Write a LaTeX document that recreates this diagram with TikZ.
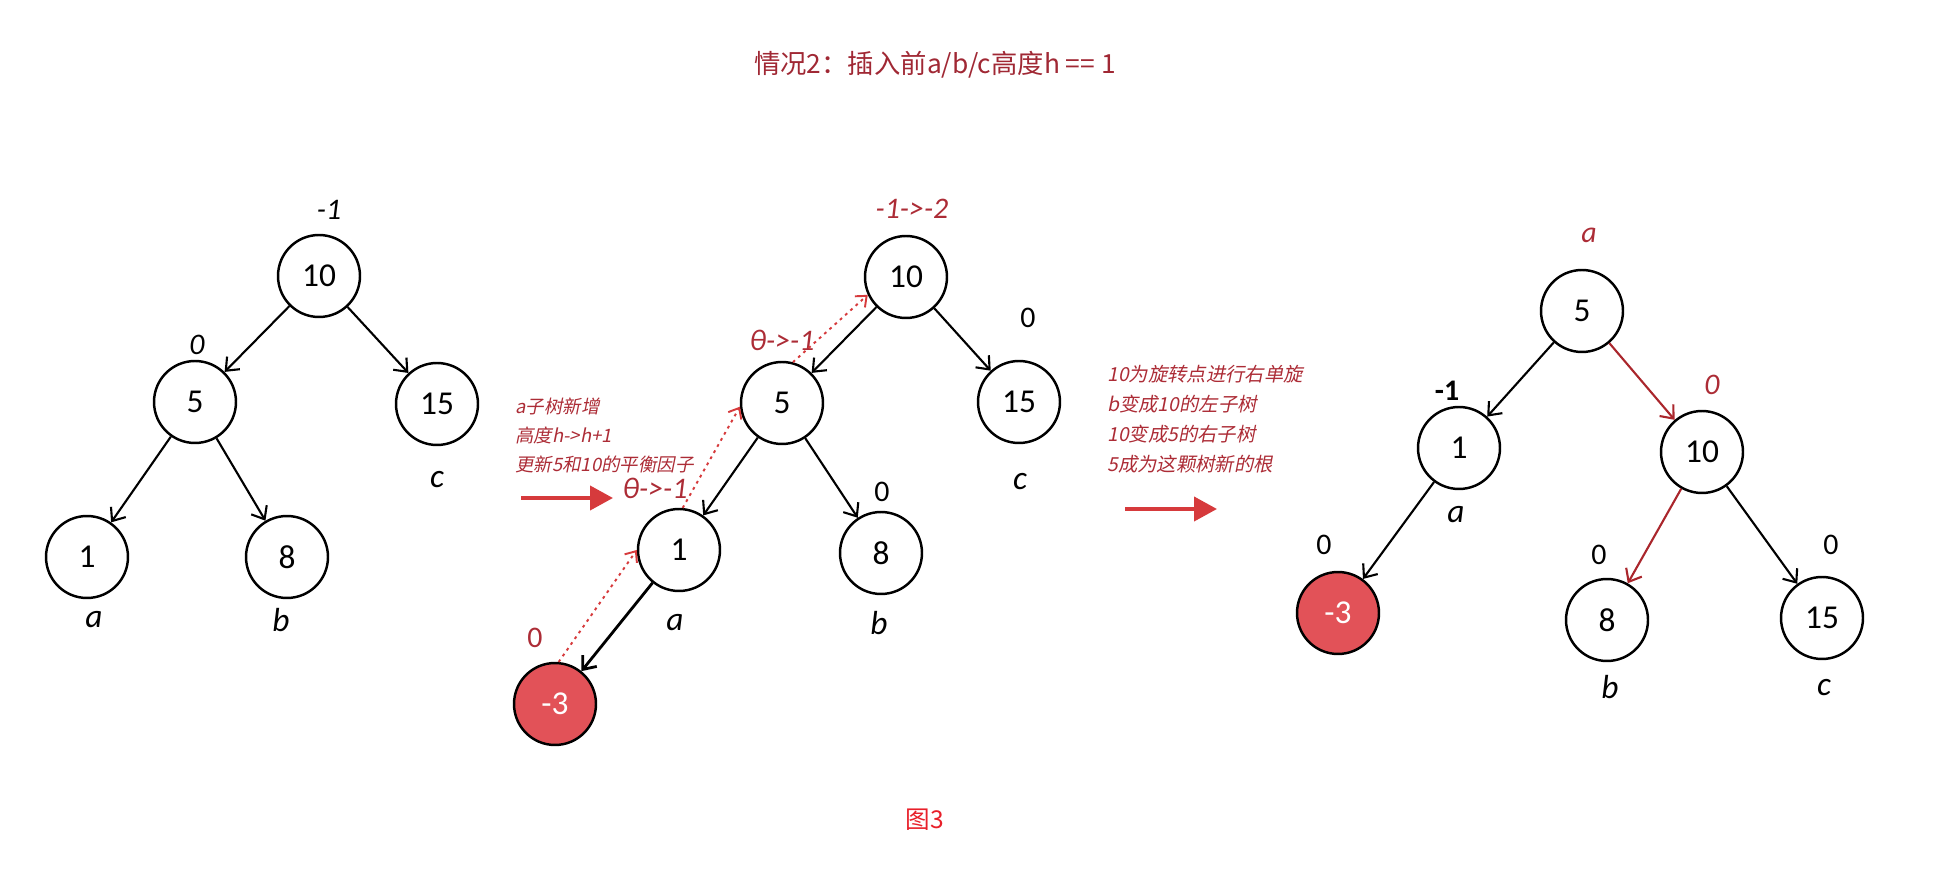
\documentclass[tikz,border=0pt]{standalone}
\usepackage{fontspec}
\setmainfont{Carlito}
\newfontfamily\cjk{Noto Sans CJK SC}
\newfontfamily\cjkit[FakeSlant=0.2]{Noto Sans CJK SC}
\usetikzlibrary{arrows.meta}
\definecolor{titlered}{RGB}{160,40,52}
\definecolor{notered}{RGB}{172,44,54}
\definecolor{arrowred}{RGB}{214,58,60}
\definecolor{nodered}{RGB}{226,82,88}
\definecolor{edgered}{RGB}{170,38,44}
\definecolor{capred}{RGB}{232,32,42}

\begin{document}
\begin{tikzpicture}[x=0.02cm,y=-0.02cm, every node/.style={inner sep=0pt},
  vert/.style={draw,circle,line width=1.4pt,minimum size=1.64cm,font=\fontsize{19}{19}\selectfont},
  newvert/.style={vert,fill=nodered,text=white},
  bal/.style={font=\fontsize{17}{17}\selectfont},
  balit/.style={font=\fontsize{17}{17}\selectfont\itshape},
  upd/.style={font=\fontsize{17}{17}\selectfont\itshape,text=notered},
  sub/.style={font=\fontsize{19}{19}\selectfont\itshape},
  note/.style={align=left,anchor=west,text=notered,font=\fontsize{10.5}{16.5}\selectfont\cjkit},
  tedge/.style={-{Straight Barb[length=2.2mm,width=3.6mm]},line width=1.2pt},
  redge/.style={tedge,draw=edgered},
  trace/.style={-{Straight Barb[length=1.8mm,width=3mm]},draw=arrowred,line width=1.1pt,dash pattern=on 1.6pt off 2.4pt},
  bigarr/.style={-{Triangle[length=4.6mm,width=4.8mm]},draw=arrowred,line width=2.3pt}]
\useasboundingbox (0,0) rectangle (1955,874);
\node[text=titlered,font=\fontsize{15}{15}\selectfont\cjk] (title) at (935,65) {情况2：插入前a/b/c高度h == 1};
% before insertion
\node[vert] (t1a) at (319,276) {10};
\node[vert] (t1b) at (195,402) {5};
\node[vert] (t1c) at (437,404) {15};
\node[vert] (t1d) at (87,557) {1};
\node[vert] (t1e) at (287,557) {8};
\node[balit] (l1a) at (329,210) {-1};
\node[balit] (l1b) at (197,345) {0};
\node[sub] (s1c) at (437,480) {c};
\node[sub] (s1d) at (94,620) {a};
\node[sub] (s1e) at (281,620) {b};
\draw[tedge] (t1a)--(t1b);\draw[tedge] (t1a)--(t1c);\draw[tedge] (t1b)--(t1d);\draw[tedge] (t1b)--(t1e);
% insert -3
\coordinate (p1) at (521,498); \coordinate (q1) at (613,498);
\draw[bigarr] (p1)--(q1);
\node[note] (n1) at (515,435) {a子树新增\\高度h->h+1\\更新5和10的平衡因子};
\node[vert] (t2a) at (906,277) {10};
\node[vert] (t2b) at (782,403) {5};
\node[vert] (t2c) at (1019,402) {15};
\node[vert] (t2d) at (679,550) {1};
\node[vert] (t2e) at (881,553) {8};
\node[newvert] (t2f) at (555,704) {-3};
\node[upd] (l2a) at (912,209) {-1->-2};
\node[bal] (l2c) at (1028,318) {0};
\node[upd] (l2b) at (782,340) {θ->-1};
\node[upd] (l2d) at (655,488) {θ->-1};
\node[bal] (l2e) at (882,492) {0};
\node[bal,text=notered] (l2f) at (535,638) {0};
\node[sub] (s2c) at (1020,482) {c};
\node[sub] (s2d) at (675,623) {a};
\node[sub] (s2e) at (879,623) {b};
\draw[tedge] (t2a)--(t2b);\draw[tedge] (t2a)--(t2c);\draw[tedge] (t2b)--(t2d);\draw[tedge] (t2b)--(t2e);
\draw[tedge,line width=1.6pt] (t2d)--(t2f);
\draw[trace] (t2f.85)--(t2d.west);\draw[trace] (t2d.85)--(t2b.185);\draw[trace] (t2b.75)--(t2a.205);
% right rotation
\coordinate (p2) at (1125,509); \coordinate (q2) at (1217,509);
\draw[bigarr] (p2)--(q2);
\node[note,font=\fontsize{11}{17}\selectfont\cjkit] (n2) at (1107,419) {10为旋转点进行右单旋\\b变成10的左子树\\10变成5的右子树\\5成为这颗树新的根};
\node[vert] (t3a) at (1582,311) {5};
\node[vert] (t3b) at (1459,448) {1};
\node[vert] (t3c) at (1702,452) {10};
\node[newvert] (t3d) at (1338,613) {-3};
\node[vert] (t3e) at (1607,620) {8};
\node[vert] (t3f) at (1822,618) {15};
\node[upd] (l3a) at (1589,235) {a};
\node[bal,font=\fontsize{17}{17}\selectfont\bfseries] (l3b) at (1447,391) {-1};
\node[upd] (l3c) at (1712,385) {0};
\node[bal] (l3d) at (1324,545) {0};
\node[bal] (l3e) at (1599,555) {0};
\node[bal] (l3f) at (1831,545) {0};
\node[sub] (s3b) at (1456,515) {a};
\node[sub] (s3e) at (1610,687) {b};
\node[sub] (s3f) at (1824,688) {c};
\draw[tedge] (t3a)--(t3b);\draw[redge] (t3a)--(t3c);\draw[tedge] (t3b)--(t3d);\draw[redge] (t3c)--(t3e);\draw[tedge] (t3c)--(t3f);
\node[text=capred,font=\fontsize{14}{14}\selectfont\cjk] (cap) at (925,820) {图3};
\end{tikzpicture}
\end{document}
